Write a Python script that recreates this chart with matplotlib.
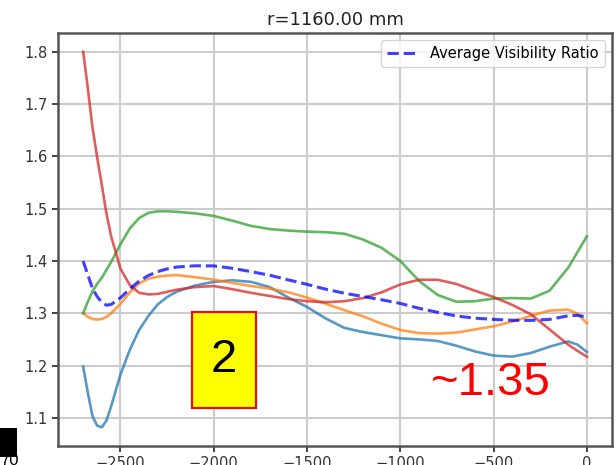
import numpy as np
import matplotlib
matplotlib.use("Agg")
import matplotlib.pyplot as plt
from matplotlib.patches import Rectangle

# position along the line (mm)
x = [-2700, -2675, -2650, -2625, -2600, -2575, -2550, -2500, -2450, -2400,
     -2350, -2300, -2250, -2200, -2100, -2000, -1900, -1800, -1700, -1600,
     -1500, -1400, -1300, -1200, -1100, -1000, -900, -800, -700, -600,
     -500, -400, -300, -200, -100, -50, 0]

ratio_blue = [1.198, 1.148, 1.103, 1.085, 1.082, 1.095, 1.122, 1.183, 1.230, 1.268,
              1.295, 1.317, 1.331, 1.341, 1.353, 1.360, 1.363, 1.360, 1.350, 1.330,
              1.312, 1.290, 1.272, 1.264, 1.258, 1.252, 1.250, 1.247, 1.238, 1.227,
              1.219, 1.217, 1.224, 1.236, 1.246, 1.240, 1.226]

ratio_orange = [1.300, 1.293, 1.289, 1.288, 1.289, 1.293, 1.300, 1.318, 1.340, 1.357,
                1.366, 1.370, 1.372, 1.373, 1.369, 1.364, 1.358, 1.352, 1.347, 1.340,
                1.330, 1.318, 1.306, 1.294, 1.280, 1.268, 1.262, 1.261, 1.263, 1.269,
                1.275, 1.284, 1.295, 1.305, 1.307, 1.299, 1.281]

ratio_green = [1.300, 1.322, 1.342, 1.356, 1.368, 1.383, 1.398, 1.432, 1.462, 1.482,
               1.492, 1.495, 1.495, 1.494, 1.491, 1.486, 1.477, 1.467, 1.461, 1.458,
               1.456, 1.455, 1.452, 1.441, 1.425, 1.400, 1.362, 1.335, 1.322, 1.323,
               1.328, 1.329, 1.328, 1.343, 1.387, 1.417, 1.447]

ratio_red = [1.800, 1.730, 1.655, 1.598, 1.545, 1.490, 1.447, 1.385, 1.354, 1.339,
             1.336, 1.337, 1.341, 1.345, 1.350, 1.352, 1.346, 1.339, 1.333, 1.327,
             1.323, 1.321, 1.323, 1.329, 1.340, 1.355, 1.364, 1.364, 1.356, 1.343,
             1.331, 1.316, 1.298, 1.269, 1.240, 1.228, 1.217]

avg_ratio = np.mean([ratio_blue, ratio_orange, ratio_green, ratio_red], axis=0)

fig = plt.figure(figsize=(6.16, 4.65), dpi=100)
ax = fig.add_axes([58/616, 19/465, 554/616, 413/465])

lw = 1.9
ax.plot(x, ratio_blue, color='#1f77b4', lw=lw, alpha=0.75)
ax.plot(x, ratio_orange, color='#ff7f0e', lw=lw, alpha=0.75)
ax.plot(x, ratio_green, color='#2ca02c', lw=lw, alpha=0.75)
ax.plot(x, ratio_red, color='#d62728', lw=lw, alpha=0.75)
ax.plot(x, avg_ratio, color='blue', ls='--', lw=2.2, alpha=0.75,
        label='Average Visibility Ratio')

ax.set_title('r=1160.00 mm', fontsize=13, color='#222222')
ax.set_xticks([-2500, -2000, -1500, -1000, -500, 0])
ax.set_yticks([1.1, 1.2, 1.3, 1.4, 1.5, 1.6, 1.7, 1.8])
ax.tick_params(labelsize=10.5, colors='#333333', width=1.3, length=4)
ax.grid(True, color='#cccccc', lw=1.5)
for s in ax.spines.values():
    s.set_color('#555555')
    s.set_linewidth(1.8)
ax.legend(loc='upper right', fontsize=10.5, handlelength=2.2)

# overlaid annotations
fig.patches.append(Rectangle((192/616, 57/465), 64/616, 96/465, transform=fig.transFigure,
                             facecolor='yellow', edgecolor='red', lw=1.5, zorder=5))
fig.text(224/616, 105/465, '2', fontsize=34, family='Liberation Sans',
         ha='center', va='center', zorder=6)
fig.text(491/616, 82/465, '~1.35', fontsize=34, family='Liberation Sans', color='red',
         ha='center', va='center', zorder=6)
fig.patches.append(Rectangle((0, 8/465), 17/616, 29/465, transform=fig.transFigure,
                             facecolor='black', edgecolor='none', zorder=5))
fig.text(0, -3/465, '70', fontsize=12, family='Liberation Sans', ha='left', va='bottom')

fig.savefig('out.png', dpi=100)
